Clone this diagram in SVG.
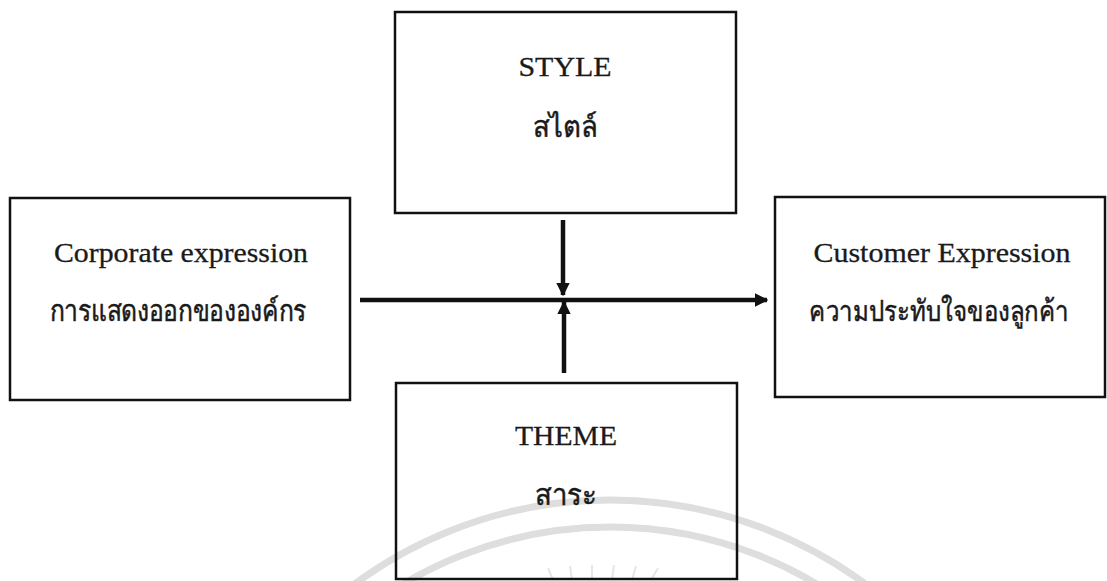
<svg xmlns="http://www.w3.org/2000/svg" width="1107" height="581" viewBox="0 0 1107 581">
<style>
.box{fill:none;stroke:#111;stroke-width:2.5}
.en{font-family:"Liberation Serif","Times New Roman",serif;font-size:27px;fill:#1a1a1a;stroke:#1a1a1a;stroke-width:0.3;text-anchor:middle}
.th{font-family:"Liberation Serif","DejaVu Sans","Noto Sans",sans-serif;font-size:29px;fill:#1a1a1a;stroke:#1a1a1a;stroke-width:0.5;text-anchor:middle}
.conn{stroke:#111;stroke-width:4.5;fill:none}
.wm{fill:none;stroke:#dedede;stroke-width:7}
.ray{stroke:#e6e6e6;stroke-width:2}
</style>
<defs>
<marker id="ah" viewBox="0 0 10 10" refX="9" refY="5" markerWidth="3" markerHeight="3" orient="auto" markerUnits="strokeWidth">
<path d="M0,0 L10,5 L0,10 z" fill="#111"/>
</marker>
</defs>
<rect width="1107" height="581" fill="#fff"/>
<g id="watermark">
<circle class="wm" cx="610" cy="930" r="430"/>
<circle class="wm" cx="610" cy="930" r="403"/>
<line class="ray" x1="548" y1="568" x2="553" y2="580"/>
<line class="ray" x1="570" y1="566" x2="572" y2="580"/>
<line class="ray" x1="592" y1="565" x2="592" y2="580"/>
<line class="ray" x1="614" y1="565" x2="612" y2="580"/>
<line class="ray" x1="636" y1="566" x2="632" y2="580"/>
<line class="ray" x1="658" y1="568" x2="651" y2="580"/>
</g>
<g id="node-style">
<rect class="box" x="395" y="12" width="341" height="201"/>
<text class="en" x="565" y="76" textLength="93" lengthAdjust="spacingAndGlyphs">STYLE</text>
<text class="th" transform="translate(565,137) scale(0.95,1)">สไตล์</text>
</g>
<g id="node-corporate">
<rect class="box" x="10" y="198" width="340" height="202"/>
<text class="en" x="181" y="262" textLength="254" lengthAdjust="spacingAndGlyphs">Corporate expression</text>
<text class="th" transform="translate(178,321) scale(0.85,1)">การแสดงออกขององค์กร</text>
</g>
<g id="node-customer">
<rect class="box" x="775" y="197" width="330" height="200"/>
<text class="en" x="942" y="262" textLength="257" lengthAdjust="spacingAndGlyphs">Customer Expression</text>
<text class="th" transform="translate(939,321) scale(0.83,1)">ความประทับใจของลูกค้า</text>
</g>
<g id="node-theme">
<rect class="box" x="396" y="383" width="341" height="196"/>
<text class="en" x="566" y="445" textLength="102" lengthAdjust="spacingAndGlyphs">THEME</text>
<text class="th" transform="translate(566,505) scale(0.95,1)">สาระ</text>
</g>
<g id="connectors">
<line class="conn" x1="360" y1="300" x2="767" y2="300" marker-end="url(#ah)"/>
<line class="conn" x1="563" y1="220" x2="563" y2="295" marker-end="url(#ah)"/>
<line class="conn" x1="564" y1="373" x2="564" y2="302" marker-end="url(#ah)"/>
</g>
</svg>
